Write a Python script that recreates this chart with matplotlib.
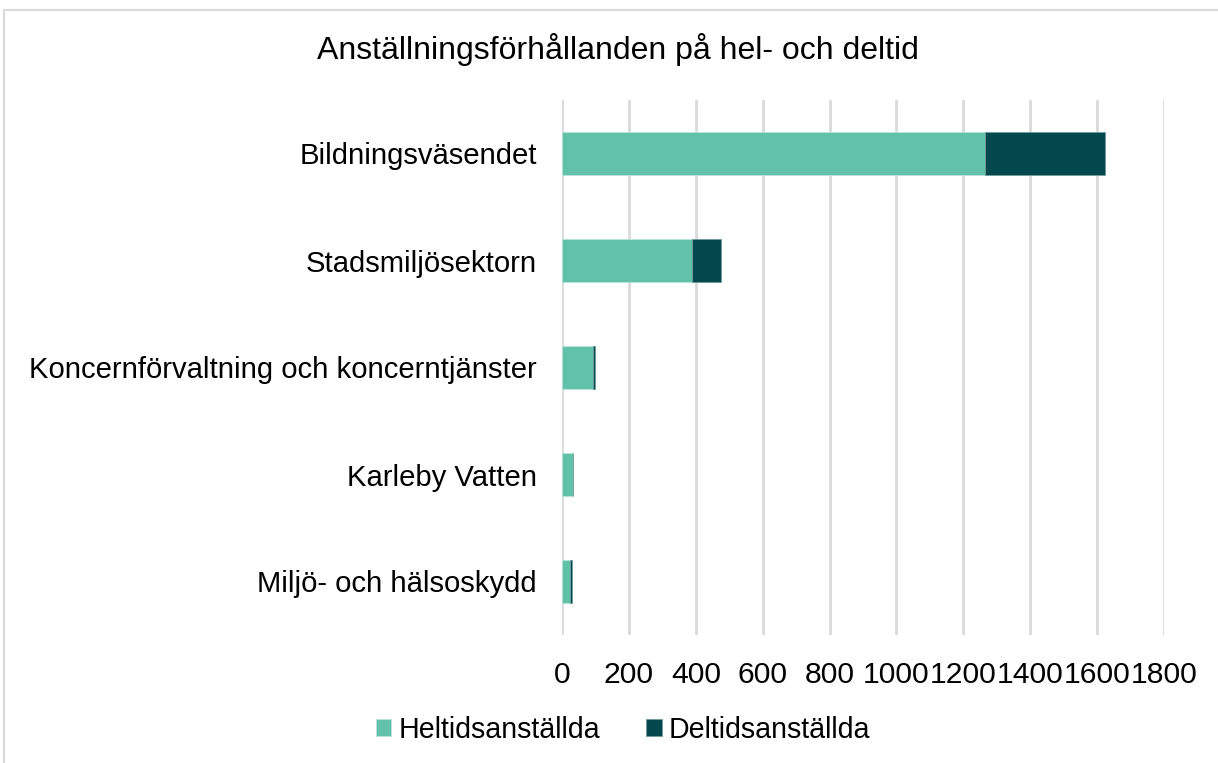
import matplotlib.pyplot as plt
from matplotlib.patches import Rectangle
import numpy as np

plt.rcParams['font.family'] = ['Liberation Sans', 'DejaVu Sans']

categories = ['Bildningsväsendet', 'Stadsmiljösektorn',
              'Koncernförvaltning och koncerntjänster', 'Karleby Vatten',
              'Miljö- och hälsoskydd']
heltid = [1266, 389, 94, 34, 23]
deltid = [358, 85, 4, 0, 7]
xticks = [0, 200, 400, 600, 800, 1000, 1200, 1400, 1600, 1800]

light = '#62C1A9'
dark = '#03484C'

W, H = 1218, 763
fig = plt.figure(figsize=(W / 100, H / 100), dpi=100)
ax = fig.add_axes([562 / W, 1 - 635 / H, (1164 - 562) / W, (635 - 100) / H])

y = np.arange(len(categories))
ax.barh(y, heltid, height=0.4, color=light, edgecolor='#b8e3d8', linewidth=0.6,
        label='Heltidsanställda', zorder=3)
ax.barh(y, deltid, left=heltid, height=0.4, color=dark, edgecolor='#6f9a9c',
        linewidth=0.6, label='Deltidsanställda', zorder=3)

ax.set_xlim(0, 1800)
ax.set_ylim(len(categories) - 0.5, -0.5)
ax.set_yticks(y)
ax.set_yticklabels(categories, fontsize=21.1)
ax.set_xticks(xticks)
ax.set_xticklabels([str(t) for t in xticks], fontsize=21.7)
ax.tick_params(length=0)
ax.tick_params(axis='y', pad=18)
ax.tick_params(axis='x', pad=19)
ax.grid(axis='x', color='#d9d9d9', linewidth=2, zorder=0)
for s in ax.spines.values():
    s.set_visible(False)

fig.text(618 / W, 1 - 50 / H, 'Anställningsförhållanden på hel- och deltid',
         fontsize=23, ha='center', va='center')

fig.legend(loc='center', bbox_to_anchor=(623 / W, 1 - 730 / H), ncol=2,
           frameon=False, fontsize=20.6, handlelength=0.55, handleheight=0.55,
           handletextpad=0.25, columnspacing=1.6)

fig.patches.append(Rectangle((4 / W, -0.1), 1.2, 1 - 10 / H + 0.1,
                             transform=fig.transFigure, fill=False,
                             edgecolor='#d9d9d9', linewidth=1.5))

fig.savefig('out.png', dpi=100)
